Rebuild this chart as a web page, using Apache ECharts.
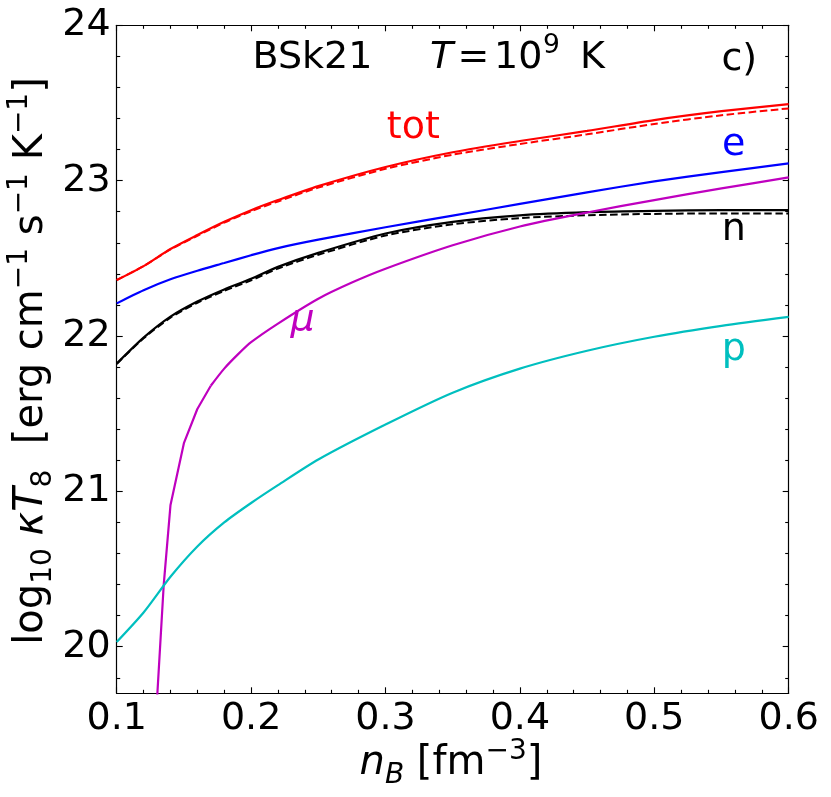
<!DOCTYPE html>
<html><head><meta charset="utf-8">
<script src="https://cdn.jsdelivr.net/npm/echarts@6/dist/echarts.min.js"></script>
<style>html,body{margin:0;padding:0;background:#fff}#c{width:831px;height:797px}</style>
</head><body><div id="c"></div>
<script>
const FONT = 'DejaVu Sans';
const FS = 38, FSS = 26.5;      // tick labels / annotations
const LFS = 40, LFSS = 28;      // axis titles

// ---- data ----
const xGrid     = [0.10, 0.12, 0.14, 0.16, 0.18, 0.20, 0.22, 0.25, 0.30, 0.35, 0.40, 0.45, 0.50, 0.55, 0.60];
const totSolid  = [22.36, 22.45, 22.56, 22.65, 22.735, 22.81, 22.875, 22.965, 23.088, 23.183, 23.255, 23.32, 23.39, 23.447, 23.493];
const totDashed = [22.36, 22.45, 22.557, 22.645, 22.73, 22.803, 22.866, 22.955, 23.076, 23.167, 23.236, 23.298, 23.365, 23.421, 23.465];
const eSolid    = [22.21, 22.295, 22.365, 22.42, 22.47, 22.52, 22.566, 22.62, 22.70, 22.775, 22.85, 22.925, 22.995, 23.055, 23.111];
const nSolid    = [21.823, 21.99, 22.125, 22.222, 22.30, 22.368, 22.445, 22.535, 22.66, 22.735, 22.777, 22.797, 22.806, 22.81, 22.81];
const nDashed   = [21.82, 21.985, 22.118, 22.214, 22.29, 22.358, 22.434, 22.523, 22.647, 22.719, 22.759, 22.777, 22.786, 22.789, 22.789];
const pSolid    = [20.03, 20.22, 20.45, 20.645, 20.80, 20.925, 21.04, 21.205, 21.43, 21.635, 21.79, 21.905, 21.995, 22.065, 22.123];
// muon curve: steep low-density part (visible kinks) and smooth high-density part
const xMuLow    = [0.13, 0.135, 0.14, 0.15, 0.16, 0.17];
const muLow     = [19.66, 20.40, 20.91, 21.31, 21.53, 21.68];
const xMuHigh   = [0.17, 0.18, 0.19, 0.20, 0.22, 0.25, 0.275, 0.30, 0.35, 0.40, 0.45, 0.50, 0.55, 0.60];
const muHigh    = [21.68, 21.79, 21.88, 21.96, 22.08, 22.24, 22.344, 22.433, 22.584, 22.705, 22.795, 22.875, 22.95, 23.021];

// ---- axes / ticks ----
const xMin = 0.1, xMax = 0.6, xStep = 0.1;
const yMin = 19.7, yMax = 24;
const yMajorTicks = [20, 21, 22, 23, 24];
const yMinorTicks = [19.8, 20.2, 20.4, 20.6, 20.8, 21.2, 21.4, 21.6, 21.8, 22.2, 22.4, 22.6, 22.8, 23.2, 23.4, 23.6, 23.8];

const chart = echarts.init(document.getElementById('c'), null, {renderer: 'canvas'});
const pairs = (xs, ys) => xs.map((x, i) => [x, ys[i]]);
const AX = {color: '#000', width: 1.2};
const TK = {color: '#000', width: 1.1};

function xAxisDef(pos, showLabel) {
  return {
    type: 'value', position: pos, min: xMin, max: xMax, interval: xStep,
    axisLine: {show: true, onZero: false, lineStyle: AX},
    axisTick: {show: true, inside: true, length: 6, lineStyle: TK},
    minorTick: {show: true, splitNumber: 5, length: 3.5, lineStyle: TK},
    splitLine: {show: false},
    axisLabel: {show: showLabel, fontFamily: FONT, fontSize: FS, color: '#000', margin: 7,
      formatter: v => v.toFixed(1)}
  };
}
function yAxisDef(pos, major, showLabel, showLine) {
  return {
    type: 'value', position: pos, min: yMin, max: yMax,
    axisLine: {show: showLine, onZero: false, lineStyle: AX},
    axisTick: {show: true, inside: true, length: major ? 6 : 3.5, lineStyle: TK,
      customValues: major ? yMajorTicks : yMinorTicks},
    splitLine: {show: false},
    axisLabel: {show: showLabel, fontFamily: FONT, fontSize: FS, color: '#000', margin: 6,
      customValues: yMajorTicks, formatter: v => String(Math.round(v))}
  };
}

const line = (name, data, color, dashed, smooth) => ({
  name, type: 'line', data, xAxisIndex: 0, yAxisIndex: 0,
  showSymbol: false, symbol: 'none', smooth: smooth, clip: true,
  lineStyle: {color, width: dashed ? 2.0 : 2.2, type: dashed ? [7.5, 3.5] : 'solid'},
  emphasis: {disabled: true}, animation: false
});

function txt(text, x, y, color, italic, size) {
  return {type: 'text', x, y, silent: true, style: {
    text, fill: color || '#000', fontFamily: FONT, fontSize: size || FS,
    fontStyle: italic ? 'italic' : 'normal',
    align: 'center', verticalAlign: 'middle', textAlign: 'center', textVerticalAlign: 'middle'}};
}
const richStyles = {
  n:    {fontFamily: FONT, fontSize: LFS, lineHeight: 52, color: '#000'},
  i:    {fontFamily: FONT, fontSize: LFS, lineHeight: 52, fontStyle: 'italic', color: '#000'},
  sub:  {fontFamily: FONT, fontSize: LFSS, lineHeight: 32, verticalAlign: 'bottom', color: '#000'},
  subi: {fontFamily: FONT, fontSize: LFSS, lineHeight: 32, verticalAlign: 'bottom', fontStyle: 'italic', color: '#000'},
  sup:  {fontFamily: FONT, fontSize: LFSS, lineHeight: 29, verticalAlign: 'top', color: '#000'}
};

chart.setOption({
  animation: false,
  backgroundColor: '#fff',
  grid: {left: 116.7, top: 25.3, right: 42.3, bottom: 103.7, containLabel: false},
  xAxis: [xAxisDef('bottom', true), xAxisDef('top', false)],
  yAxis: [yAxisDef('left', true, true, true), yAxisDef('right', true, false, true),
          yAxisDef('left', false, false, false), yAxisDef('right', false, false, false)],
  series: [
    line('tot', pairs(xGrid, totSolid), '#ff0000', false, 0.25),
    line('tot (dashed)', pairs(xGrid, totDashed), '#ff0000', true, 0.25),
    line('e', pairs(xGrid, eSolid), '#0000ff', false, 0.25),
    line('n', pairs(xGrid, nSolid), '#000000', false, 0.25),
    line('n (dashed)', pairs(xGrid, nDashed), '#000000', true, 0.25),
    line('μ', pairs(xMuLow, muLow), '#bf00bf', false, false),
    line('μ ', pairs(xMuHigh, muHigh), '#bf00bf', false, 0.25),
    line('p', pairs(xGrid, pSolid), '#00bfbf', false, 0.25)
  ],
  graphic: [
    txt('BSk21', 312.5, 58.4),
    txt('T', 441.5, 58.4, '#000', true),
    txt('=', 473.3, 58.4),
    txt('10', 518.3, 58.4),
    txt('9', 551.5, 45.9, '#000', false, FSS),
    txt('K', 592.5, 58.4),
    txt('c)', 739.3, 60),
    txt('tot', 413.3, 128.6, '#ff0000'),
    txt('e', 733.7, 145, '#0000ff'),
    txt('n', 733.7, 230.2, '#000000'),
    txt('p', 733.7, 350, '#00bfbf'),
    txt('μ', 302.5, 320, '#bf00bf', true),
    {type: 'text', x: 451, y: 764, silent: true, style: {
      text: '{i|n}{subi|B}{n| [fm}{sup|−3}{n|]}', rich: richStyles,
      align: 'center', verticalAlign: 'middle', textAlign: 'center', textVerticalAlign: 'middle'}},
    {type: 'text', x: 32, y: 361, rotation: Math.PI / 2, silent: true, style: {
      text: '{n|log}{sub|10}{n| }{i|κT}{sub|8}{n|  [erg cm}{sup|−1}{n| s}{sup|−1}{n| K}{sup|−1}{n|]}',
      rich: richStyles,
      align: 'center', verticalAlign: 'middle', textAlign: 'center', textVerticalAlign: 'middle'}}
  ]
});
</script></body></html>
